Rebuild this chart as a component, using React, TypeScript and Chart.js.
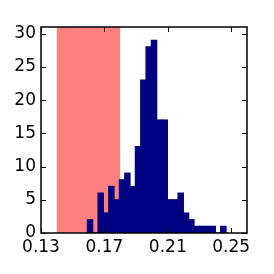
import React, { useEffect, useRef } from 'react';
import { Chart, registerables } from 'chart.js';

Chart.register(...registerables);

// Histogram bin centers and counts
const binCenters = [
  0.16094, 0.16431, 0.16768, 0.17104, 0.17441, 0.17777, 0.18114, 0.18451,
  0.18787, 0.19124, 0.1946, 0.19797, 0.20133, 0.2047, 0.20807, 0.21143,
  0.2148, 0.21816, 0.22153, 0.2249, 0.22826, 0.23163, 0.23499, 0.23836,
  0.24172, 0.24509,
];
const counts = [
  2, 0, 6, 3, 7, 5, 8, 9, 7, 13, 23, 28, 29, 17, 17, 5, 5, 6, 3, 2, 1, 1, 1, 1, 0, 1,
];
const xTickValues = [0.13, 0.17, 0.21, 0.25];
const yTickValues = [0, 5, 10, 15, 20, 25, 30];
const spanStart = 0.14;
const spanEnd = 0.18;
const xMin = 0.13;
const xMax = 0.26;
const yMin = 0;
const yMax = 31;

const NAVY = '#000080';
const PINK = '#ff8080';

const framePlugin = {
  id: 'frameAndSpan',
  beforeDatasetsDraw(chart: any) {
    const { ctx, chartArea: a, scales } = chart;
    const x = scales.x;
    ctx.save();
    ctx.fillStyle = PINK;
    const x0 = x.getPixelForValue(spanStart);
    const x1 = x.getPixelForValue(spanEnd);
    ctx.fillRect(x0, a.top, x1 - x0, a.bottom - a.top);
    ctx.restore();
  },
  afterDatasetsDraw(chart: any) {
    const { ctx, chartArea: a, scales } = chart;
    const x = scales.x;
    const y = scales.y;
    const L = 5;
    ctx.save();
    ctx.strokeStyle = '#000';
    ctx.lineWidth = 1;
    ctx.beginPath();
    for (const v of xTickValues) {
      const px = Math.round(x.getPixelForValue(v)) + 0.5;
      ctx.moveTo(px, a.bottom);
      ctx.lineTo(px, a.bottom - L);
      ctx.moveTo(px, a.top);
      ctx.lineTo(px, a.top + L);
    }
    for (const v of yTickValues) {
      const py = Math.round(y.getPixelForValue(v)) + 0.5;
      ctx.moveTo(a.left, py);
      ctx.lineTo(a.left + L, py);
      ctx.moveTo(a.right, py);
      ctx.lineTo(a.right - L, py);
    }
    ctx.stroke();
    ctx.lineWidth = 1.5;
    ctx.strokeRect(a.left, a.top, a.right - a.left, a.bottom - a.top);
    ctx.restore();
  },
};

export default function App() {
  const ref = useRef<HTMLCanvasElement | null>(null);

  useEffect(() => {
    if (!ref.current) return;
    const chart = new Chart(ref.current, {
      type: 'bar',
      data: {
        datasets: [
          {
            data: binCenters.map((c, i) => ({ x: c, y: counts[i] })),
            backgroundColor: NAVY,
            borderWidth: 0,
            barPercentage: 1,
            categoryPercentage: 1,
            inflateAmount: 0.6,
          },
        ],
      },
      options: {
        animation: false,
        responsive: false,
        events: [],
        layout: { padding: { top: 27, right: 27, left: 0, bottom: 0 } },
        plugins: { legend: { display: false }, tooltip: { enabled: false } },
        scales: {
          x: {
            type: 'linear',
            min: xMin,
            max: xMax,
            offset: false,
            grid: { display: false, drawTicks: false },
            border: { display: false },
            afterBuildTicks: (s: any) => {
              s.ticks = xTickValues.map((v) => ({ value: v }));
            },
            afterFit: (s: any) => {
              s.height = 41;
            },
            ticks: {
              padding: 4,
              maxRotation: 0,
              autoSkip: false,
              color: '#000',
              font: { family: 'DejaVu Sans', size: 17 },
              callback: (v: any) => Number(v).toFixed(2),
            },
          },
          y: {
            type: 'linear',
            min: yMin,
            max: yMax,
            grid: { display: false, drawTicks: false },
            border: { display: false },
            afterBuildTicks: (s: any) => {
              s.ticks = yTickValues.map((v) => ({ value: v }));
            },
            afterFit: (s: any) => {
              s.width = 41;
            },
            ticks: {
              padding: 5,
              autoSkip: false,
              color: '#000',
              font: { family: 'DejaVu Sans', size: 17 },
              callback: (v: any) => String(v),
            },
          },
        },
      },
      plugins: [framePlugin],
    });
    return () => chart.destroy();
  }, []);

  return (
    <div style={{ position: 'absolute', left: 0, top: 0, width: 274, height: 274, background: '#fff' }}>
      <canvas ref={ref} width={274} height={274} />
    </div>
  );
}
